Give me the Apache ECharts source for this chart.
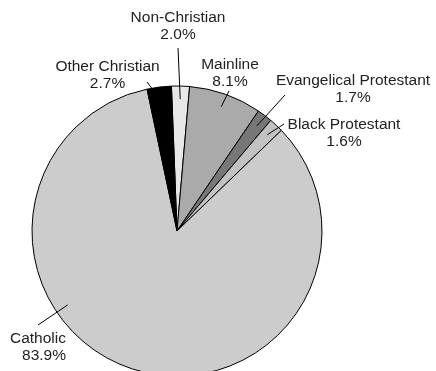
<!DOCTYPE html>
<html><head><meta charset="utf-8">
<script src="https://cdn.jsdelivr.net/npm/echarts@6/dist/echarts.min.js"></script>
<style>html,body{margin:0;padding:0;background:#fff}#c{width:436px;height:371px}</style>
</head><body><div id="c"></div>
<script>
// ---- data ----
const categories = ['Non-Christian', 'Mainline', 'Evangelical Protestant', 'Black Protestant', 'Catholic', 'Other Christian'];
const shares = [2.0, 8.1, 1.7, 1.6, 83.9, 2.7];
const sliceColors = ['#e8e8e8', '#aaaaaa', '#777777', '#c2c2c2', '#cccccc', '#000000'];

// ---- layout ----
const CX = 177, CY = 231, R = 145, START = 92.2, INNER = 0.91;
// label line end and text anchor, relative to the pie centre
const LABEL_SPOTS = [
  { end: [1, -183],   text: [1, -205],    align: 'center' },
  { end: [52, -140],  text: [53, -158],   align: 'center' },
  { end: [108, -136], text: [176, -142],  align: 'center' },
  { end: [107, -107], text: [167, -98],   align: 'center' },
  { end: [-139, 94],  text: [-111, 116],  align: 'right', radial: true },
  { end: [-30, -149], text: [-69.5, -156], align: 'center' }
];

const total = shares.reduce((a, b) => a + b, 0);
function midAngle(i) {
  let before = 0;
  for (let k = 0; k < i; k++) before += shares[k];
  const deg = START - (before + shares[i] / 2) / total * 360;
  return deg * Math.PI / 180;
}

const pieData = categories.map((name, i) => ({
  name: name,
  value: shares[i],
  itemStyle: { color: sliceColors[i] }
}));

const chart = echarts.init(document.getElementById('c'), null, { renderer: 'canvas' });
chart.setOption({
  animation: false,
  backgroundColor: '#ffffff',
  series: [{
    type: 'pie',
    z: 2,
    center: [CX, CY],
    radius: R,
    startAngle: START,
    clockwise: true,
    silent: true,
    data: pieData,
    itemStyle: { borderColor: '#000', borderWidth: 1 },
    label: { show: false },
    labelLine: { show: false },
    emphasis: { disabled: true }
  }, {
    // transparent twin of the pie that carries the labels and their guide lines
    type: 'pie',
    z: 5,
    center: [CX, CY],
    radius: R,
    startAngle: START,
    clockwise: true,
    avoidLabelOverlap: false,
    silent: true,
    data: categories.map((name, i) => ({ name: name, value: shares[i] })),
    itemStyle: { color: 'rgba(0,0,0,0)', borderWidth: 0 },
    label: {
      show: true,
      position: 'outside',
      color: '#222',
      fontFamily: '"Liberation Sans", Arial, sans-serif',
      fontSize: 15.5,
      lineHeight: 17,
      formatter: p => p.name + '\n' + p.value.toFixed(1) + '%'
    },
    labelLine: { show: true, length: 10, length2: 0, smooth: false, lineStyle: { color: '#000', width: 1 } },
    emphasis: { disabled: true },
    labelLayout: function (p) {
      const s = LABEL_SPOTS[p.dataIndex];
      const ex = CX + s.end[0], ey = CY + s.end[1];
      let sx, sy;
      if (s.radial) {
        const d = Math.hypot(ex - CX, ey - CY);
        sx = CX + (ex - CX) / d * R * INNER;
        sy = CY + (ey - CY) / d * R * INNER;
      } else {
        const a = midAngle(p.dataIndex);
        sx = CX + Math.cos(a) * R * INNER;
        sy = CY - Math.sin(a) * R * INNER;
      }
      return {
        x: CX + s.text[0],
        y: CY + s.text[1],
        align: s.align,
        verticalAlign: 'middle',
        labelLinePoints: [[sx, sy], [ex, ey], [ex, ey]]
      };
    }
  }]
});
</script>
</body></html>
